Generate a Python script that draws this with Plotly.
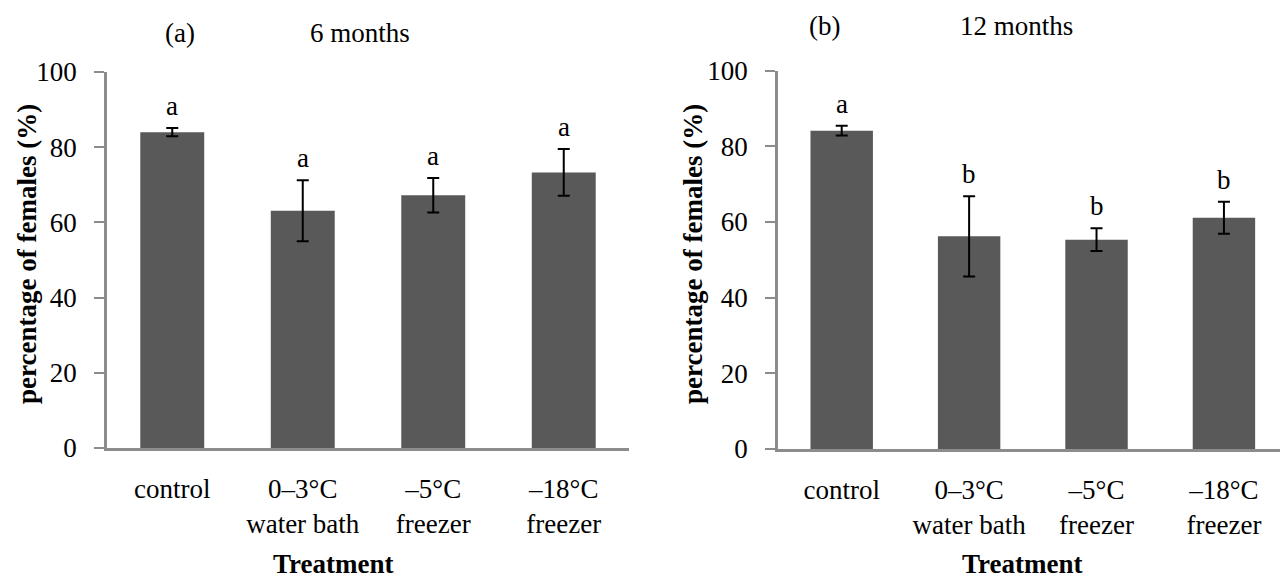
import plotly.graph_objects as go

categories = ["control", "0–3°C<br>water bath", "–5°C<br>freezer", "–18°C<br>freezer"]
means_6m = [84.0, 63.1, 67.2, 73.3]
err_6m = [1.1, 8.1, 4.6, 6.2]
letters_6m = ["a", "a", "a", "a"]
means_12m = [84.1, 56.2, 55.3, 61.1]
err_12m = [1.3, 10.6, 3.0, 4.2]
letters_12m = ["a", "b", "b", "b"]
y_ticks = [0, 20, 40, 60, 80, 100]

FONT = "Liberation Serif, Palatino Linotype, Book Antiqua, serif"
BAR = "#595959"
AX = "#8c8c8c"
FS = 27

fig = go.Figure()
for means, errs, xa, ya in [(means_6m, err_6m, "x", "y"), (means_12m, err_12m, "x2", "y2")]:
    fig.add_trace(go.Bar(
        x=categories, y=means, xaxis=xa, yaxis=ya, width=0.49,
        marker=dict(color=BAR, line=dict(width=0)),
        error_y=dict(type="data", array=errs, visible=True, color="black", thickness=2, width=6),
        showlegend=False, hoverinfo="skip",
    ))

annotations = []
for means, errs, letters, xr, yr in [(means_6m, err_6m, letters_6m, "x", "y"),
                                      (means_12m, err_12m, letters_12m, "x2", "y2")]:
    for c, m, e, l in zip(categories, means, errs, letters):
        annotations.append(dict(x=c, y=m + e, xref=xr, yref=yr, text=l, showarrow=False,
                                yanchor="bottom", yshift=5, font=dict(family=FONT, size=FS, color="black")))

def paper_text(text, x, y, bold=False, angle=0):
    return dict(x=x / 1280, y=1 - y / 581, xref="paper", yref="paper", text=(f"<b>{text}</b>" if bold else text),
                showarrow=False, xanchor="center", yanchor="middle", textangle=angle,
                font=dict(family=FONT, size=FS, color="black"))

annotations += [
    paper_text("(a)", 180, 33),
    paper_text("6 months", 360, 33),
    paper_text("(b)", 824, 26),
    paper_text("12 months", 1016, 26),
    paper_text("Treatment", 333, 564, bold=True),
    paper_text("Treatment", 1022, 564, bold=True),
    paper_text("percentage of females (%)", 27, 254, bold=True, angle=-90),
    paper_text("percentage of females (%)", 693, 254, bold=True, angle=-90),
]

xcommon = dict(type="category", showline=True, linecolor=AX, linewidth=2.5, ticks="",
               showgrid=False, zeroline=False, ticklabelstandoff=15, automargin=False,
               tickfont=dict(family=FONT, size=FS, color="black"), fixedrange=True)
ycommon = dict(range=[0, 100], tickvals=y_ticks, showline=True, linecolor=AX, linewidth=2.5,
               ticks="outside", ticklen=10, tickwidth=2, tickcolor=AX, showgrid=False, zeroline=False,
               automargin=False, ticklabelstandoff=12,
               tickfont=dict(family=FONT, size=FS, color="black"), fixedrange=True)

fig.update_layout(
    width=1280, height=581, margin=dict(l=0, r=0, t=0, b=0, autoexpand=False),
    paper_bgcolor="white", plot_bgcolor="white", bargap=0.5,
    xaxis=dict(domain=[107 / 1280, 629 / 1280], range=[-0.5, 3.5], anchor="y", **xcommon),
    yaxis=dict(domain=[133 / 581, 509 / 581], anchor="x", **ycommon),
    xaxis2=dict(domain=[778 / 1280, 1.0], range=[-0.5, 3.44], anchor="y2", **xcommon),
    yaxis2=dict(domain=[132 / 581, 510.5 / 581], anchor="x2", **ycommon),
    annotations=annotations,
)

fig.write_html("out.html", config={"displayModeBar": False},
               post_script="document.body.style.margin='0px';document.body.style.overflow='hidden';")
